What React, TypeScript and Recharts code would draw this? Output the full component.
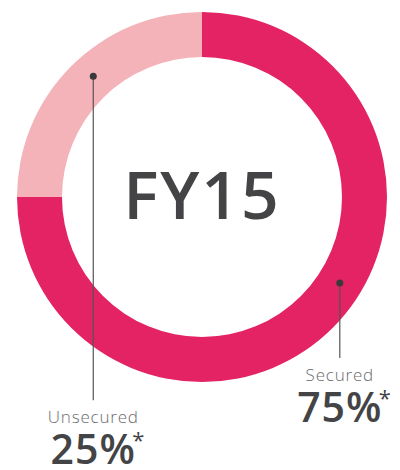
import React from 'react';
import { PieChart, Pie, Cell } from 'recharts';

const CATEGORIES = ['Secured', 'Unsecured'];
const SHARES = [75, 25];
const CENTER_TITLE = 'FY15';

const COLORS = ['#e32363', '#f4b3b9'];
const TEXT = '#444446';
const FONT = '"Open Sans", Lato, sans-serif';

// where each callout dot sits on the ring (degrees) and how long its stem is
const DOT_ANGLE = [-32, 132];
const STEM = [75, 324];

const data = CATEGORIES.map((name, i) => ({ name, value: SHARES[i] }));

const renderLabel = (props: any) => {
  const { cx, cy, innerRadius, outerRadius, index, value } = props;
  const RADIAN = Math.PI / 180;
  const r = (innerRadius + outerRadius) / 2;
  const a = DOT_ANGLE[index];
  const x = cx + r * Math.cos(-a * RADIAN);
  const y = cy + r * Math.sin(-a * RADIAN);
  const y2 = y + STEM[index];
  return (
    <g>
      {index === 0 && (
        <text
          x={cx}
          y={cy + 22}
          textAnchor="middle"
          fill={TEXT}
          fontSize={66}
          fontFamily={FONT}
          fontWeight={600}
          letterSpacing={2}
        >
          {CENTER_TITLE}
        </text>
      )}
      <line x1={x} y1={y} x2={x} y2={y2} stroke="#555" strokeWidth={1.2} />
      <circle cx={x} cy={y} r={3.5} fill="#3a3a3c" />
      <text x={x} y={y2 + 23} textAnchor="middle" fill="#6b6b6d" fontSize={17} fontFamily={FONT} fontWeight={300} letterSpacing={0.8}>
        {data[index].name}
      </text>
      <text x={x} y={y2 + 64} textAnchor="middle" fill={TEXT} fontSize={41} fontFamily={FONT} fontWeight={600} letterSpacing={1}>
        {`${value}%`}
      </text>
      <text x={x + 45} y={y2 + 48} textAnchor="middle" fill={TEXT} fontSize={22} fontFamily={FONT}>
        *
      </text>
    </g>
  );
};

export default function App() {
  return (
    <div style={{ position: 'absolute', left: 0, top: 0, width: 400, height: 470, background: '#fff' }}>
      <PieChart width={400} height={470} margin={{ top: 0, right: 0, bottom: 0, left: 0 }}>
        <Pie
          data={data}
          dataKey="value"
          cx={202}
          cy={197}
          innerRadius={140}
          outerRadius={185}
          startAngle={90}
          endAngle={-270}
          stroke="none"
          label={renderLabel}
          labelLine={false}
          isAnimationActive={false}
        >
          {data.map((entry, index) => (
            <Cell key={`cell-${index}`} fill={COLORS[index % COLORS.length]} />
          ))}
        </Pie>
      </PieChart>
    </div>
  );
}
